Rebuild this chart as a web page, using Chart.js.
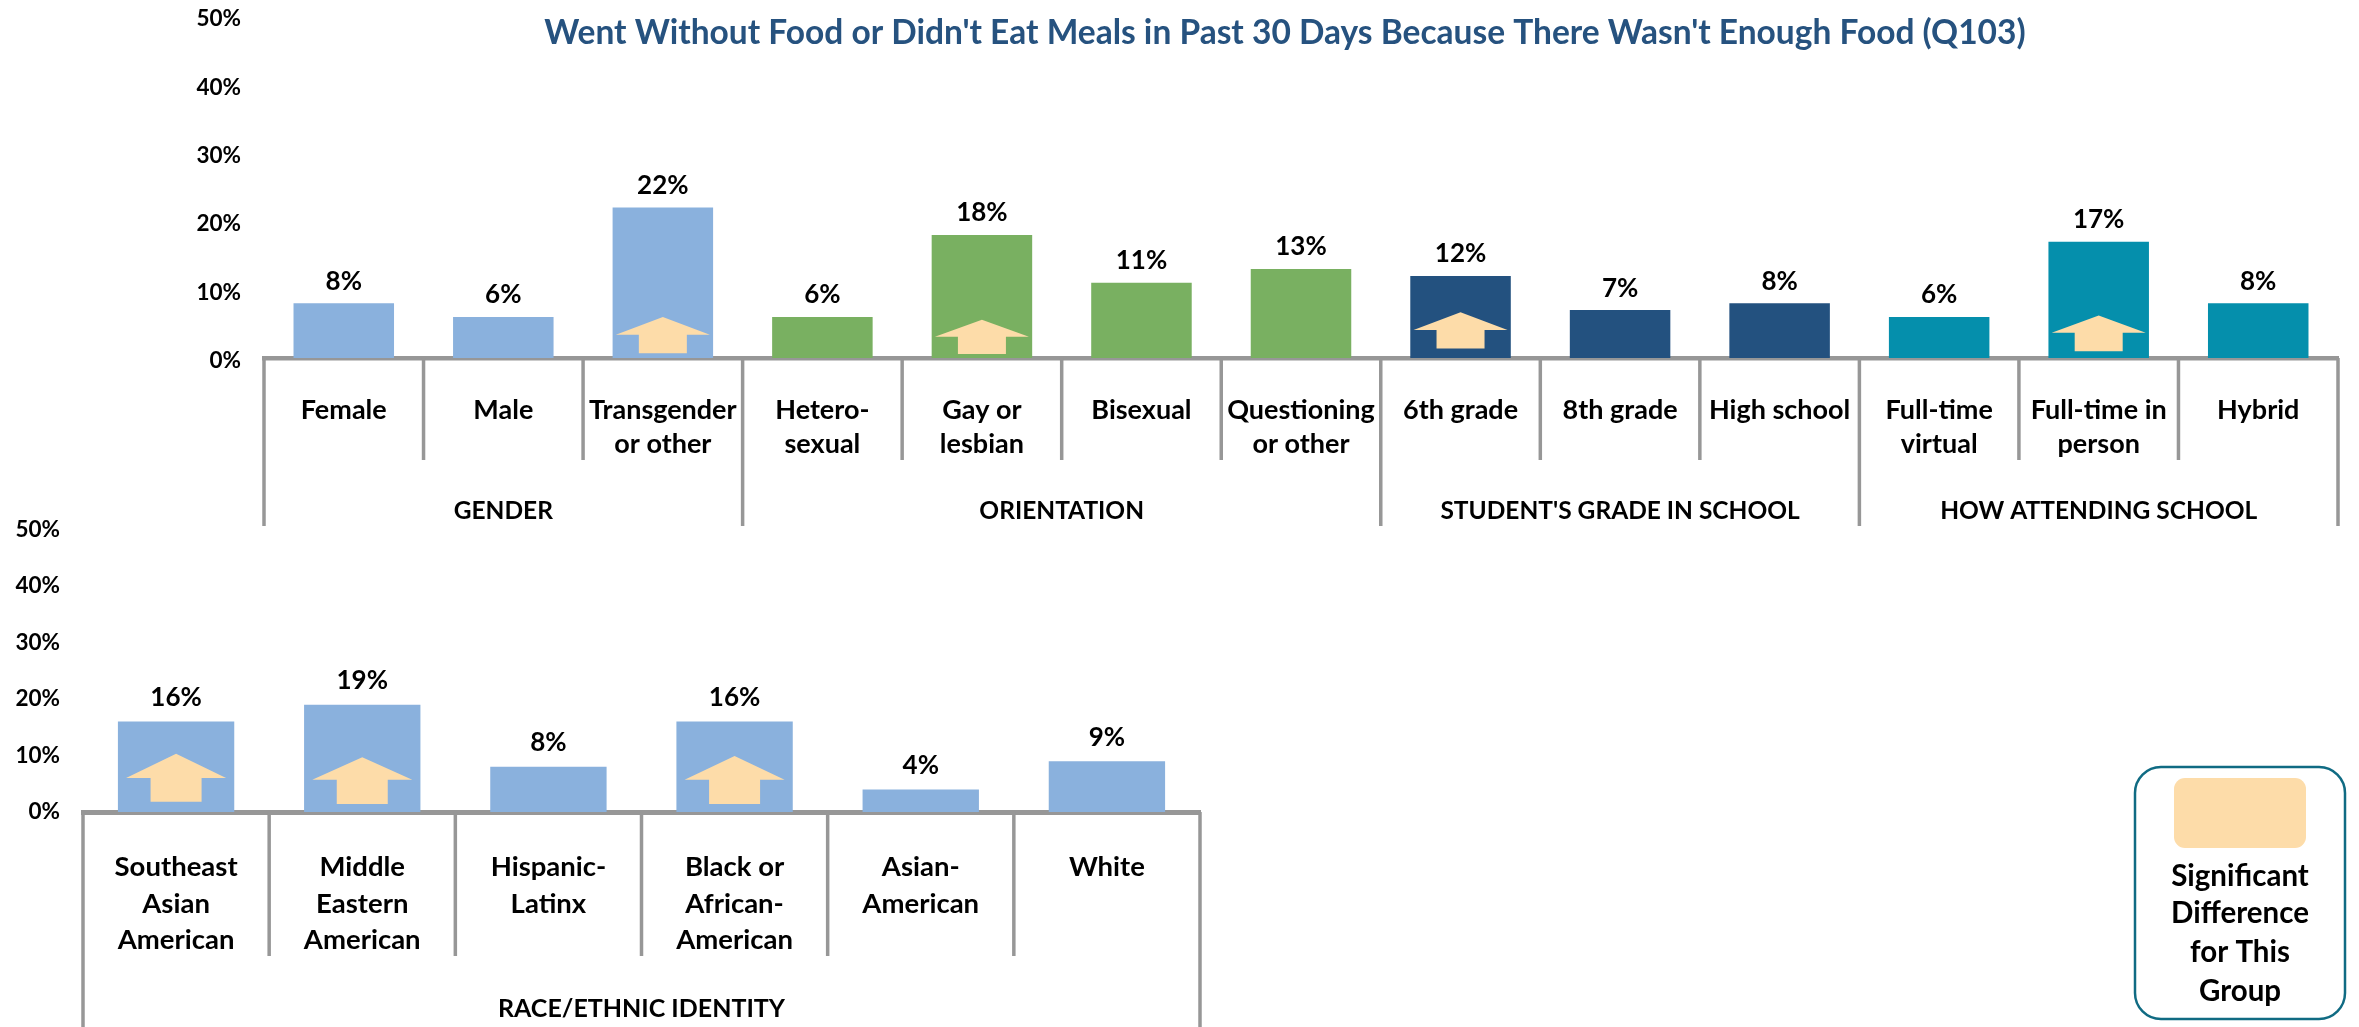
<!DOCTYPE html>
<html><head><meta charset="utf-8">
<style>
html,body{margin:0;padding:0;background:#fff;width:2359px;height:1027px;overflow:hidden}
.box{position:absolute;left:0;width:2359px}
#topBox{top:0;height:530px}
#botBox{top:500px;height:527px}
</style>
<script src="https://cdn.jsdelivr.net/npm/chart.js@4/dist/chart.umd.min.js"></script>
</head><body>
<div class="box" id="topBox"><canvas id="top"></canvas></div>
<div class="box" id="botBox"><canvas id="bot"></canvas></div>
<script>
const titleText = "Went Without Food or Didn't Eat Meals in Past 30 Days Because There Wasn't Enough Food (Q103)";
const legendLines = ["Significant", "Difference", "for This", "Group"];

const topCategories = [["Female"],["Male"],["Transgender","or other"],["Hetero-","sexual"],["Gay or","lesbian"],["Bisexual"],["Questioning","or other"],["6th grade"],["8th grade"],["High school"],["Full-time","virtual"],["Full-time in","person"],["Hybrid"]];
const topValues = [8,6,22,6,18,11,13,12,7,8,6,17,8];
const topGroupNames = ["GENDER","ORIENTATION","STUDENT'S GRADE IN SCHOOL","HOW ATTENDING SCHOOL"];
const topGroupSizes = [3,4,3,3];
const topArrowIndex = [2,4,7,11];
const topArrowTip = [6.0,5.6,6.7,6.2];
const topArrowShoulder = [3.4,3.1,4.1,3.7];
const topArrowBase = [0.7,0.6,1.4,1.0];

const botCategories = [["Southeast","Asian","American"],["Middle","Eastern","American"],["Hispanic-","Latinx"],["Black or","African-","American"],["Asian-","American"],["White"]];
const botValues = [16,19,8,16,4,9];
const botGroupNames = ["RACE/ETHNIC IDENTITY"];
const botGroupSizes = [6];
const botArrowIndex = [0,1,3];
const botArrowTip = [10.3,9.7,9.9];
const botArrowShoulder = [6.0,5.7,5.7];
const botArrowBase = [1.8,1.4,1.4];

const yTicks = [0,10,20,30,40,50];

const FONT = "Lato, Carlito, sans-serif";
const BLUE="#8AB1DD", GREEN="#79B061", NAVY="#23517F", TEAL="#058FAC", GREY="#979797", PEACH="#FDDCA9";
const topColors = [BLUE,BLUE,BLUE,GREEN,GREEN,GREEN,GREEN,NAVY,NAVY,NAVY,TEAL,TEAL,TEAL];
const botColors = botValues.map(()=>BLUE);

function decorations(o){
  return {
    id:'decorations',
    afterDatasetsDraw(chart){
      const {ctx,scales:{x,y}} = chart;
      const values = chart.data.datasets[0].data;
      ctx.save();
      ctx.fillStyle='#000'; ctx.textAlign='center'; ctx.textBaseline='middle';
      ctx.font=`bold ${o.valueFont}px ${FONT}`;
      values.forEach((v,i)=>ctx.fillText(v+'%',x.getPixelForValue(i),y.getPixelForValue(v)-o.valueGap));
      ctx.fillStyle=PEACH;
      o.arrowIndex.forEach((idx,k)=>{
        const cx=x.getPixelForValue(idx);
        const tip=y.getPixelForValue(o.arrowTip[k]), sh=y.getPixelForValue(o.arrowShoulder[k]), base=y.getPixelForValue(o.arrowBase[k]);
        const hw=o.arrowHead/2, sw=o.arrowStem/2;
        ctx.beginPath();
        ctx.moveTo(cx,tip);ctx.lineTo(cx+hw,sh);ctx.lineTo(cx+sw,sh);ctx.lineTo(cx+sw,base);
        ctx.lineTo(cx-sw,base);ctx.lineTo(cx-sw,sh);ctx.lineTo(cx-hw,sh);ctx.closePath();ctx.fill();
      });
      const step=x.getPixelForValue(1)-x.getPixelForValue(0);
      const left=x.getPixelForValue(0)-step/2;
      const axisY=y.getPixelForValue(0);
      ctx.strokeStyle=GREY; ctx.lineWidth=o.tickWidth;
      const isGroupEdge=new Set([0]); let c=0; o.groupSizes.forEach(s=>{c+=s;isGroupEdge.add(c)});
      for(let i=0;i<=values.length;i++){
        const px=left+i*step;
        ctx.beginPath();ctx.moveTo(px,axisY);
        ctx.lineTo(px,axisY+(isGroupEdge.has(i)?o.groupDepth:o.catDepth));ctx.stroke();
      }
      ctx.fillStyle='#000'; ctx.font=`bold ${o.groupFont}px ${FONT}`;
      let st=0;
      o.groupNames.forEach((n,k)=>{
        ctx.fillText(n,left+(st+o.groupSizes[k]/2)*step,axisY+o.groupLabelY);
        st+=o.groupSizes[k];
      });
      if(o.extra) o.extra(ctx);
      ctx.restore();
    }
  };
}

function makeChart(id,labels,values,colors,o){
  return new Chart(document.getElementById(id),{
    type:'bar',
    data:{labels,datasets:[{data:values,backgroundColor:colors,borderWidth:0,barPercentage:o.barPct,categoryPercentage:1}]},
    plugins:[decorations(o)],
    options:{
      responsive:false,animation:false,
      layout:{padding:{top:o.top,right:o.right,bottom:0,left:0}},
      plugins:{legend:{display:false},tooltip:{enabled:false},title:{display:false}},
      scales:{
        x:{
          afterFit(s){s.height=o.xHeight;s.paddingLeft=0;s.paddingRight=0},
          grid:{display:false,drawTicks:false},
          border:{display:true,color:GREY,width:o.axisWidth},
          ticks:{autoSkip:false,maxRotation:0,minRotation:0,padding:o.tickPad,color:'#000',
            font:{family:FONT,weight:'bold',size:o.catFont,lineHeight:o.catLH}}
        },
        y:{
          min:0,max:50,
          afterFit(s){s.width=o.yWidth;s.paddingTop=0;s.paddingBottom=0},
          afterBuildTicks(s){s.ticks=yTicks.map(v=>({value:v}))},
          grid:{display:false,drawTicks:false},
          border:{display:false},
          ticks:{padding:23,color:'#000',
            callback:v=>o.yNudge?['',v+'%']:v+'%',
            font:{family:FONT,weight:'bold',size:o.yFont,lineHeight:o.yNudge?(2*o.yNudge)+'px':1.2}}
        }
      }
    }
  });
}

function sizeCanvas(id,w,h){const c=document.getElementById(id);c.width=w;c.height=h;c.style.width=w+'px';c.style.height=h+'px';}
sizeCanvas('top',2359,530);
sizeCanvas('bot',2359,527);

makeChart('top',topCategories,topValues,topColors,{
  top:16,right:21,xHeight:172,yWidth:264,barPct:.63,axisWidth:4.5,tickPad:35.5,catFont:27,catLH:34/27,yFont:22.5,yNudge:3,
  valueFont:26,valueGap:22,arrowIndex:topArrowIndex,arrowTip:topArrowTip,arrowShoulder:topArrowShoulder,arrowBase:topArrowBase,
  arrowHead:94,arrowStem:48,tickWidth:3.5,catDepth:102,groupDepth:168,groupFont:24.5,groupLabelY:153,
  groupNames:topGroupNames,groupSizes:topGroupSizes,
  extra(ctx){
    ctx.fillStyle='#26527F';ctx.font=`bold 33.5px ${FONT}`;ctx.textAlign='center';ctx.textBaseline='middle';
    ctx.fillText(titleText,1285,33);
  }
});

makeChart('bot',botCategories,botValues,botColors,{
  top:29.5,right:1159,xHeight:215,yWidth:83,barPct:.625,axisWidth:5,tickPad:37,catFont:27.5,catLH:36.5/27.5,yFont:22.5,yNudge:0,
  valueFont:26,valueGap:24,arrowIndex:botArrowIndex,arrowTip:botArrowTip,arrowShoulder:botArrowShoulder,arrowBase:botArrowBase,
  arrowHead:100,arrowStem:51,tickWidth:3.5,catDepth:144,groupDepth:215,groupFont:25,groupLabelY:197,
  groupNames:botGroupNames,groupSizes:botGroupSizes,
  extra(ctx){
    ctx.strokeStyle='#106B83';ctx.lineWidth=2.5;
    ctx.beginPath();ctx.roundRect(2135,267,210,252,26);ctx.stroke();
    ctx.fillStyle=PEACH;
    ctx.beginPath();ctx.roundRect(2174,278,132,70,11);ctx.fill();
    ctx.fillStyle='#000';ctx.font=`bold 29.5px ${FONT}`;ctx.textAlign='center';ctx.textBaseline='middle';
    [376,413,452,491].forEach((py,i)=>ctx.fillText(legendLines[i],2240,py));
  }
});
</script>
</body></html>
